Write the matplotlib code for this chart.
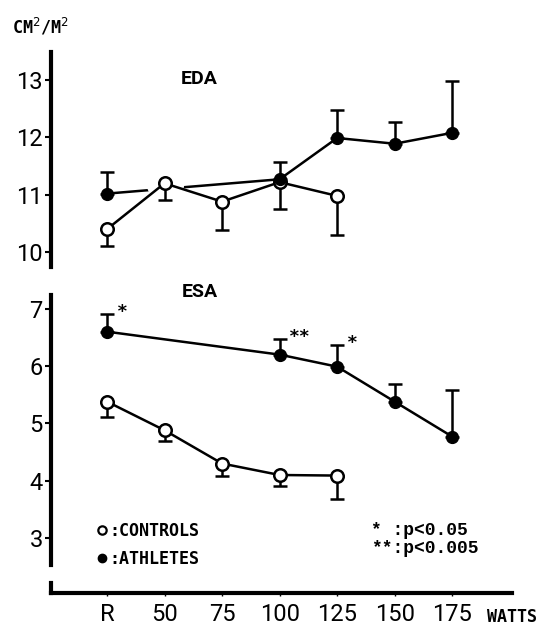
import matplotlib
matplotlib.use("Agg")
import matplotlib.pyplot as plt
from matplotlib.lines import Line2D


W, H = 551, 626
NARROW = ["Roboto", "DejaVu Sans"]

x_labels = ["R", "50", "75", "100", "125", "150", "175"]

# EDA, upper panel (controls: error bars down, athletes: error bars up)
eda_ctrl_x = [0, 1, 2, 3, 4]
eda_ctrl = [10.4, 11.2, 10.88, 11.22, 10.98]
eda_ctrl_err = [0.3, 0.3, 0.49, 0.47, 0.69]
eda_ath_x = [0, 3, 4, 5, 6]
eda_ath = [11.02, 11.27, 11.99, 11.89, 12.08]
eda_ath_err = [0.38, 0.3, 0.49, 0.38, 0.9]

# ESA, lower panel
esa_ctrl_x = [0, 1, 2, 3, 4]
esa_ctrl = [5.38, 4.88, 4.3, 4.1, 4.09]
esa_ctrl_err = [0.26, 0.19, 0.21, 0.2, 0.41]
esa_ath_x = [0, 3, 4, 5, 6]
esa_ath = [6.6, 6.2, 5.99, 5.38, 4.77]
esa_ath_err = [0.31, 0.27, 0.37, 0.3, 0.82]
esa_ath_sig = ["*", "**", "*", "", ""]


def px_axes(fig, left, top, right, bottom):
    return fig.add_axes([left / W, 1 - bottom / H, (right - left) / W, (bottom - top) / H])


def style_panel(ax, ylim, yticks):
    ax.set_xlim(-0.974, 7.04)
    ax.set_ylim(*ylim)
    for side in ("top", "right", "bottom"):
        ax.spines[side].set_visible(False)
    ax.spines["left"].set_linewidth(3.0)
    ax.set_xticks([])
    ax.set_yticks(yticks)
    ax.tick_params(axis="y", length=4.5, width=1.5, pad=1.5)
    for lab in ax.get_yticklabels():
        lab.set_family(NARROW)
        lab.set_fontsize(17)
    ax.patch.set_alpha(0)


def draw_pair(ax, cx, cy, cerr, archx, ay, aerr, halo_idx=None):
    zeros_c = [0] * len(cy)
    zeros_a = [0] * len(ay)
    ax.plot(archx, ay, color="black", lw=1.8, zorder=2)
    ax.errorbar(archx, ay, yerr=[zeros_a, aerr], fmt="none", ecolor="black",
                elinewidth=1.8, capsize=4.8, capthick=1.8, zorder=2)
    if halo_idx is not None:
        # the athletes line is broken around this control point
        ax.plot([cx[halo_idx]], [cy[halo_idx]], "o", ms=26, mfc="white",
                mec="white", zorder=3)
    ax.errorbar(cx, cy, yerr=[cerr, zeros_c], fmt="none", ecolor="black",
                elinewidth=1.8, capsize=4.8, capthick=1.8, zorder=4)
    ax.plot(cx, cy, color="black", lw=1.8, marker="o", ms=9, mfc="white",
            mec="black", mew=1.8, zorder=5)
    ax.plot(archx, ay, ls="none", marker="o", ms=8.5, mfc="black",
            mec="black", zorder=6)


fig = plt.figure(figsize=(W / 100, H / 100), dpi=100)

ax_top = px_axes(fig, 51, 52, 512, 267)
style_panel(ax_top, (9.74, 13.49), [10, 11, 12, 13])
draw_pair(ax_top, eda_ctrl_x, eda_ctrl, eda_ctrl_err,
          eda_ath_x, eda_ath, eda_ath_err, halo_idx=1)
ax_top.text(0.322, 0.875, "EDA", transform=ax_top.transAxes, ha="center",
            va="center", family=NARROW, fontsize=14, fontweight="bold")

ax_bot = px_axes(fig, 51, 295, 512, 565)
style_panel(ax_bot, (2.53, 7.24), [3, 4, 5, 6, 7])
draw_pair(ax_bot, esa_ctrl_x, esa_ctrl, esa_ctrl_err,
          esa_ath_x, esa_ath, esa_ath_err)
ax_bot.text(0.322, 1.01, "ESA", transform=ax_bot.transAxes, ha="center",
            va="center", family=NARROW, fontsize=14, fontweight="bold")
for xv, yv, ev, mark in zip(esa_ath_x, esa_ath, esa_ath_err, esa_ath_sig):
    if mark:
        ax_bot.annotate(mark, (xv, yv + ev), xytext=(7, -5), textcoords="offset points",
                        ha="left", va="bottom", family="DejaVu Sans Mono",
                        fontweight="bold", fontsize=13)

handles = [
    Line2D([], [], ls="none", marker="o", ms=6, mfc="white", mec="black", mew=1.6),
    Line2D([], [], ls="none", marker="o", ms=6, mfc="black", mec="black"),
]
ax_bot.legend(handles, [":CONTROLS", ":ATHLETES"], loc="lower left",
              bbox_to_anchor=(0.07, -0.066), frameon=False, handlelength=0.5,
              handletextpad=0.15, labelspacing=0.6,
              prop={"family": "DejaVu Sans Mono", "weight": "bold", "size": 12})

ax_bot.text(0.695, 0.094, "* :p<0.05\n**:p<0.005", transform=ax_bot.transAxes,
            ha="left", va="center", family="Liberation Mono", fontweight="bold",
            fontsize=13, linespacing=1.05)

ax_x = px_axes(fig, 51, 583, 512, 593)
ax_x.set_xlim(-0.974, 7.04)
ax_x.set_ylim(0, 1)
for side in ("top", "right"):
    ax_x.spines[side].set_visible(False)
ax_x.spines["bottom"].set_linewidth(3.0)
ax_x.spines["left"].set_linewidth(3.0)
ax_x.set_yticks([])
ax_x.set_xticks(range(len(x_labels)))
ax_x.set_xticklabels(x_labels, family=NARROW, fontsize=17)
ax_x.tick_params(axis="x", length=2, width=1, pad=5)
ax_x.patch.set_alpha(0)
fig.text(487 / W, 1 - 617 / H, "WATTS", ha="left", va="center",
         family="DejaVu Sans Mono", fontweight="bold", fontsize=12)

fig.text(12 / W, 1 - 27 / H, "CM$^2$/M$^2$", ha="left", va="center",
         family="DejaVu Sans Mono", fontweight="bold", fontsize=12)

fig.savefig("out.png", dpi=100)
plt.close(fig)
